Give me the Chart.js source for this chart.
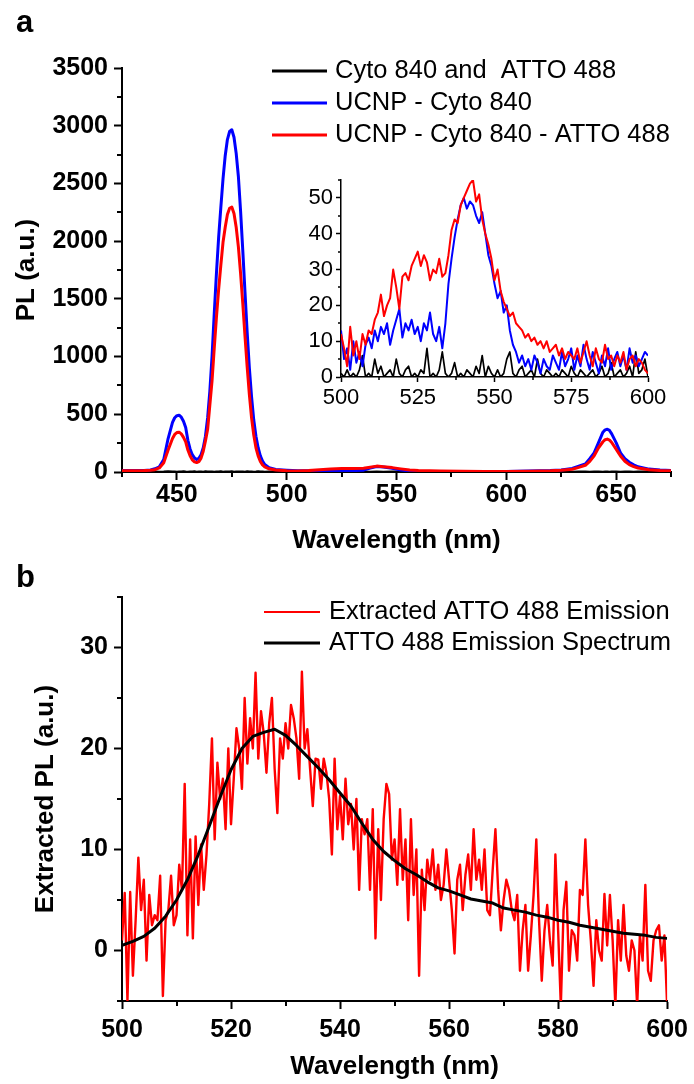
<!DOCTYPE html>
<html>
<head>
<meta charset="utf-8">
<script src="https://cdn.jsdelivr.net/npm/chart.js@4.4.0/dist/chart.umd.min.js"></script>
<style>
  body { margin: 0; background: #fff; }
  #page { position: relative; width: 694px; height: 1084px; overflow: hidden; }
  canvas { position: absolute; }
</style>
</head>
<body>
<div id="page">
  <canvas id="chartA" width="694" height="560" style="left:0;top:0"></canvas>
  <canvas id="chartInset" width="420" height="260" style="left:260px;top:160px"></canvas>
  <canvas id="chartB" width="694" height="524" style="left:0;top:560px"></canvas>
</div>
<script>
// Panel a - full spectra (nm)
const aWave = [
  425, 430, 435, 438, 440, 442, 444, 446, 448, 449,
  450, 451, 452, 453, 454, 455, 456, 457, 458, 459,
  460, 461, 462, 463, 464, 465, 466, 467, 468, 469,
  470, 471, 472, 473, 474, 475, 476, 477, 478, 479,
  480, 481, 482, 483, 484, 485, 486, 487, 488, 489,
  490, 492, 495, 500, 505, 510, 515, 520, 525, 530,
  535, 538, 541, 544, 548, 552, 556, 560, 570, 580,
  590, 600, 610, 620, 625, 630, 633, 636, 638, 640,
  642, 644, 645, 646, 647, 648, 650, 652, 654, 656,
  658, 660, 665, 670, 675
];
const aBlack = [
  3, 2, 4, 2, 3, 1, 2, 4, 2, 3,
  1, 3, 2, 4, 2, 1, 3, 2, 4, 1,
  2, 3, 1, 4, 2, 3, 2, 1, 3, 2,
  4, 1, 2, 3, 2, 4, 1, 3, 2, 2,
  3, 1, 4, 2, 3, 1, 2, 4, 2, 3,
  1, 2, 3, 1, 2, 3, 1, 2, 3, 1,
  2, 1, 3, 1, 2, 2, 1, 3, 1, 2,
  1, 2, 1, 3, 2, 1, 2, 3, 1, 2,
  3, 1, 2, 2, 1, 3, 2, 1, 2, 3,
  1, 2, 2, 1, 2
];
const aBlue = [
  12, 12, 14, 18, 28, 45, 107, 290, 430, 470,
  488, 492, 475, 440, 385, 275, 200, 150, 122, 108,
  118, 150, 210, 310, 470, 700, 1000, 1370, 1720, 2030,
  2290, 2540, 2740, 2880, 2950, 2965, 2900, 2760, 2560, 2260,
  1920, 1560, 1210, 900, 650, 450, 310, 210, 140, 95,
  65, 38, 22, 15, 10, 11, 12, 12, 13, 12,
  16, 35, 48, 44, 32, 18, 8, 4, 3, 4,
  4, 5, 8, 12, 18, 30, 50, 70, 115, 165,
  255, 345, 365, 370, 360, 330, 255, 165, 115, 85,
  62, 45, 25, 17, 14
];
const aRed = [
  10, 10, 12, 15, 20, 35, 80, 190, 290, 325,
  342, 345, 330, 300, 262, 190, 140, 105, 88, 82,
  90, 120, 180, 270, 370, 580, 790, 1070, 1340, 1580,
  1790, 1990, 2120, 2230, 2285, 2295, 2240, 2120, 1950, 1720,
  1460, 1180, 910, 670, 470, 320, 210, 140, 92, 62,
  45, 28, 18, 10, 9, 12, 20, 27, 31, 30,
  33, 42, 51, 46, 38, 27, 17, 13, 8, 6,
  5, 4, 7, 10, 15, 24, 40, 58, 92, 140,
  210, 262, 280, 285, 277, 256, 198, 138, 93, 64,
  47, 35, 19, 13, 11
];

// Inset - 500 to 600 nm, 1 nm apart
const insetStart = 500;
const insetStep = 1;
const iBlack = [
  1, 0, 2, 0, 1, 0, 2, 6, 0, 1,
  0, 5, 1, 3, 0, 1, 2, 0, 5, 1,
  0, 2, 3, 0, 1, 0, 2, 1, 8, 0,
  1, 0, 2, 7, 1, 0, 1, 4, 0, 1,
  0, 2, 1, 0, 3, 1, 6, 0, 3, 1,
  0, 2, 0, 1, 5, 7, 1, 0, 2, 3,
  0, 1, 2, 0, 5, 1, 0, 2, 1, 0,
  1, 0, 2, 1, 0, 3, 1, 0, 2, 1,
  0, 1, 2, 0, 1, 3, 0, 1, 4, 0,
  1, 2, 0, 1, 3, 0, 7, 1, 2, 5,
  0
];
const iBlue = [
  13, 5, 8, 2, 10, 4, 7, 3, 9, 11,
  8, 13, 10, 14, 12, 15, 9, 13, 16, 19,
  11, 15, 13, 16, 12, 14, 10, 15, 13, 18,
  12, 10, 14, 8, 15, 26, 33, 39, 44, 48,
  50, 47, 49, 48, 45, 43, 46, 40, 34, 31,
  26, 22, 24, 18, 20, 13, 9, 7, 4, 6,
  3, 5, 2, 6, 4, 1, 5, 3, 2, 6,
  4, 2, 7, 3, 5, 8, 2, 6, 3, 9,
  5, 2, 7, 4, 1, 6, 3, 8, 2, 5,
  7, 3, 6, 2, 8, 4, 6, 3, 5, 7,
  6
];
const iRed = [
  12, 8, 3, 14, 6, 10, 5, 12, 9, 13,
  12, 16, 18, 23, 17, 20, 22, 30, 25, 19,
  28, 29, 27, 31, 33, 35, 31, 34, 32, 27,
  30, 29, 33, 28, 29, 34, 41, 44, 43, 48,
  50, 52, 54, 55, 49, 51, 44, 40, 37, 33,
  27, 30, 24, 21, 19, 17, 18, 15, 14, 13,
  11, 12, 10, 11, 9, 10, 8, 10, 7, 8,
  9, 6, 8, 5, 7, 6, 5, 8, 4, 7,
  10, 6, 3, 8, 5, 4, 9, 5, 6, 3,
  6, 4, 7, 2, 5, 6, 3, 5, 4, 2,
  1
];

// Panel b - extracted emission, 0.5 nm apart
const bStart = 500;
const bStep = 0.5;
const bRed = [
  1, 5.7, -5, 5.8, -2.5, 3, 9.2, 4, 7, -1,
  5.5, 2.5, 3.5, 3, 7.4, -4.5, 3, 4, 7.4, 2.5,
  3.5, 8.5, 6, 16.5, 1.5, 11, 1.2, 11.3, 4.5, 10.5,
  6, 9.5, 14.5, 21, 11, 18.6, 15, 17, 12, 20,
  12.5, 17, 22, 20, 16, 25, 18.5, 23, 20, 27.5,
  19, 23.7, 21.5, 17.6, 22.5, 25, 18, 13.6, 21, 19,
  22.5, 20, 24.3, 23, 21, 17, 27.6, 20, 21.9, 18,
  14.3, 19, 18.9, 16, 19, 17.6, 15, 9.5, 19, 12,
  15.3, 11, 17, 12.5, 14.5, 10, 15, 6, 13, 11.5,
  13, 6, 14, 1.2, 12, 5, 13, 16.5, 15.5, 9,
  11, 6.5, 14, 7, 11, 3, 13, 5.5, 10, -2.5,
  8, 4, 9, 7, 10, 6, 8.5, 5, 6.5, 10,
  7, 4, -0.3, 7, 8.5, 4, 7.5, 9.5, 6, 12,
  7, 9, 6, 10, 4, 3.5, 8, 12, 6, 2,
  5, 7, 6, 4, 3, 5.5, -2, 2, 4.5, -2,
  1.5, 5.5, 11, 3, -3, 2, 4.5, 1, -1.5, 9.5,
  2, -5.5, 4, 6.8, -2, 2, 1.5, -1, 6, 5.5,
  11, 4.5, 1, -3.5, 3, 0, -1, 5.6, 0.5, 5.5,
  1, -5.5, 3, -1, 4.5, -0.5, -2, 1, 0, -5.5,
  1.5, -1, 6.5, -2, -3, 1, 2, 2.5, -1, 1.5,
  -5.5
];
const bBlackStart = 500;
const bBlackStep = 2;
const bBlack = [
  0.5, 0.9, 1.4, 2.2, 3.4, 5.0, 7.0, 9.5, 12.3, 15.2,
  17.9, 20.0, 21.2, 21.6, 21.9, 21.3, 20.3, 19.2, 18.1, 16.9,
  15.6, 14.3, 12.6, 11.0, 9.8, 8.9, 8.1, 7.5, 6.8, 6.2,
  5.9, 5.5, 5.1, 4.9, 4.7, 4.2, 4.0, 3.8, 3.5, 3.3,
  3.0, 2.8, 2.5, 2.3, 2.1, 1.9, 1.7, 1.6, 1.5, 1.3,
  1.2
];

// Axis ticks
const xTicksA = [450, 500, 550, 600, 650];
const xMinorA = [425, 475, 525, 575, 625, 675];
const yTicksA = [0, 500, 1000, 1500, 2000, 2500, 3000, 3500];
const yMinorA = [250, 750, 1250, 1750, 2250, 2750, 3250];
const xTicksInset = [500, 525, 550, 575, 600];
const xMinorInset = [512.5, 537.5, 562.5, 587.5];
const yTicksInset = [0, 10, 20, 30, 40, 50];
const yMinorInset = [5, 15, 25, 35, 45, 55];
const xTicksB = [500, 520, 540, 560, 580, 600];
const xMinorB = [510, 530, 550, 570, 590];
const yTicksB = [0, 10, 20, 30];
const yMinorB = [-5, 5, 15, 25, 35];

const FONT = "'Liberation Sans', Arial, sans-serif";

function pts(xs, ys) {
  return ys.map((y, i) => ({ x: xs[i], y: y }));
}
function stepPts(start, step, ys) {
  return ys.map((y, i) => ({ x: start + i * step, y: y }));
}

// Draw minor tick marks through the scales
const minorTicks = {
  id: 'minorTicks',
  afterDraw(chart, args, opts) {
    const { ctx, chartArea } = chart;
    ctx.save();
    ctx.strokeStyle = '#000';
    ctx.lineWidth = opts.width || 2;
    ctx.beginPath();
    (opts.x || []).forEach(v => {
      const px = Math.round(chart.scales.x.getPixelForValue(v));
      ctx.moveTo(px, chartArea.bottom);
      ctx.lineTo(px, chartArea.bottom + opts.length);
    });
    (opts.y || []).forEach(v => {
      const py = Math.round(chart.scales.y.getPixelForValue(v));
      ctx.moveTo(chartArea.left - opts.length, py);
      ctx.lineTo(chartArea.left, py);
    });
    ctx.stroke();
    ctx.restore();
  }
};

// Legend: a short line and the label for each dataset
const legendLines = {
  id: 'legendLines',
  afterDraw(chart, args, opts) {
    if (!opts.show) return;
    const ctx = chart.ctx;
    ctx.save();
    ctx.font = opts.font;
    ctx.textBaseline = 'middle';
    chart.data.datasets.forEach((ds, i) => {
      const y = opts.y + i * opts.rowGap;
      ctx.strokeStyle = ds.borderColor;
      ctx.lineWidth = ds.legendWidth || ds.borderWidth;
      ctx.beginPath();
      ctx.moveTo(opts.x, y);
      ctx.lineTo(opts.x + opts.length, y);
      ctx.stroke();
      ctx.fillStyle = '#000';
      ctx.fillText(ds.label, opts.x + opts.length + opts.gap, y);
    });
    ctx.restore();
  }
};

// Panel letter
const panelLabel = {
  id: 'panelLabel',
  afterDraw(chart, args, opts) {
    if (!opts.text) return;
    const ctx = chart.ctx;
    ctx.save();
    ctx.font = 'bold 31px ' + FONT;
    ctx.fillStyle = '#000';
    ctx.textBaseline = 'alphabetic';
    ctx.fillText(opts.text, opts.x, opts.y);
    ctx.restore();
  }
};

function axis(o) {
  return {
    type: 'linear',
    position: o.position,
    min: o.min,
    max: o.max,
    afterBuildTicks: s => { s.ticks = o.ticks.map(v => ({ value: v })); },
    afterFit: s => {
      if (s.isHorizontal()) s.height = o.size; else s.width = o.size;
    },
    border: { display: true, color: '#000', width: 2 },
    grid: {
      display: true, drawOnChartArea: false, drawTicks: true,
      tickLength: o.tickLength, tickWidth: 2, tickColor: '#000'
    },
    ticks: {
      autoSkip: false, maxRotation: 0, padding: o.padding, color: '#000',
      font: { family: FONT, size: o.fontSize, weight: o.bold ? 'bold' : 'normal' },
      callback: v => v
    },
    title: o.title ? {
      display: true, text: o.title, color: '#000',
      font: { family: FONT, size: 26, weight: 'bold' },
      padding: o.titlePad
    } : { display: false }
  };
}

function baseOptions(padding) {
  return {
    responsive: false,
    animation: false,
    events: [],
    layout: { padding: padding },
    elements: {
      point: { radius: 0 },
      line: { tension: 0, borderJoinStyle: 'round', fill: false }
    },
    plugins: { legend: { display: false }, tooltip: { enabled: false } }
  };
}

window.onload = function () {
  // Panel a
  const optA = baseOptions({ left: 0, top: 68, right: 23, bottom: 0 });
  optA.scales = {
    x: axis({ position: 'bottom', min: 425, max: 675, ticks: xTicksA, size: 88, tickLength: 8,
      padding: 0, fontSize: 25, bold: true, title: 'Wavelength (nm)', titlePad: { top: 0, bottom: 4 } }),
    y: axis({ position: 'left', min: 0, max: 3500, ticks: yTicksA, size: 122, tickLength: 8,
      padding: 6, fontSize: 25, bold: true, title: 'PL (a.u.)', titlePad: { top: 11, bottom: 0 } })
  };
  optA.plugins.minorTicks = { x: xMinorA, y: yMinorA, length: 5, width: 2 };
  optA.plugins.legendLines = { show: true, x: 272, y: 71, rowGap: 32, length: 55, gap: 8, font: '25.5px ' + FONT };
  optA.plugins.panelLabel = { text: 'a', x: 16, y: 32 };
  new Chart(document.getElementById('chartA'), {
    type: 'line',
    data: {
      datasets: [
        { label: 'Cyto 840 and  ATTO 488', data: pts(aWave, aBlack), borderColor: '#000000', borderWidth: 2.5, legendWidth: 3, order: 2 },
        { label: 'UCNP - Cyto 840', data: pts(aWave, aBlue), borderColor: '#0000ff', borderWidth: 3, order: 1 },
        { label: 'UCNP - Cyto 840 - ATTO 488', data: pts(aWave, aRed), borderColor: '#ff0000', borderWidth: 3, order: 0 }
      ]
    },
    options: optA,
    plugins: [minorTicks, legendLines, panelLabel]
  });

  // Inset of panel a
  const optI = baseOptions({ left: 0, top: 20, right: 32, bottom: 0 });
  optI.scales = {
    x: axis({ position: 'bottom', min: 500, max: 600, ticks: xTicksInset, size: 43, tickLength: 5,
      padding: 3, fontSize: 22, bold: false }),
    y: axis({ position: 'left', min: 0, max: 55, ticks: yTicksInset, size: 81, tickLength: 5,
      padding: 3, fontSize: 22, bold: false })
  };
  optI.scales.x.border.width = 1.5;
  optI.scales.y.border.width = 1.5;
  optI.scales.x.grid.tickWidth = 1.5;
  optI.scales.y.grid.tickWidth = 1.5;
  optI.plugins.minorTicks = { x: xMinorInset, y: yMinorInset, length: 3, width: 1.5 };
  new Chart(document.getElementById('chartInset'), {
    type: 'line',
    data: {
      datasets: [
        { label: 'Cyto 840 and  ATTO 488', data: stepPts(insetStart, insetStep, iBlack), borderColor: '#000000', borderWidth: 1.7, order: 2 },
        { label: 'UCNP - Cyto 840', data: stepPts(insetStart, insetStep, iBlue), borderColor: '#0000ff', borderWidth: 2, order: 1 },
        { label: 'UCNP - Cyto 840 - ATTO 488', data: stepPts(insetStart, insetStep, iRed), borderColor: '#ff0000', borderWidth: 2, order: 0 }
      ]
    },
    options: optI,
    plugins: [minorTicks]
  });

  // Panel b
  const optB = baseOptions({ left: 0, top: 37, right: 23, bottom: 0 });
  optB.scales = {
    x: axis({ position: 'bottom', min: 500, max: 600, ticks: xTicksB, size: 83, tickLength: 8,
      padding: 6, fontSize: 25, bold: true, title: 'Wavelength (nm)', titlePad: { top: 0, bottom: 2 } }),
    y: axis({ position: 'left', min: -5, max: 35, ticks: yTicksB, size: 122, tickLength: 8,
      padding: 6, fontSize: 25, bold: true, title: 'Extracted PL (a.u.)', titlePad: { top: 30, bottom: 0 } })
  };
  optB.plugins.minorTicks = { x: xMinorB, y: yMinorB, length: 5, width: 2 };
  optB.plugins.legendLines = { show: true, x: 264, y: 52, rowGap: 31, length: 56, gap: 9, font: '25.5px ' + FONT };
  optB.plugins.panelLabel = { text: 'b', x: 16, y: 27 };
  new Chart(document.getElementById('chartB'), {
    type: 'line',
    data: {
      datasets: [
        { label: 'Extracted ATTO 488 Emission', data: stepPts(bStart, bStep, bRed), borderColor: '#ff0000', borderWidth: 2.4, legendWidth: 2, order: 1 },
        { label: 'ATTO 488 Emission Spectrum', data: stepPts(bBlackStart, bBlackStep, bBlack), borderColor: '#000000', borderWidth: 3, order: 0 }
      ]
    },
    options: optB,
    plugins: [minorTicks, legendLines, panelLabel]
  });
};
</script>
</body>
</html>
